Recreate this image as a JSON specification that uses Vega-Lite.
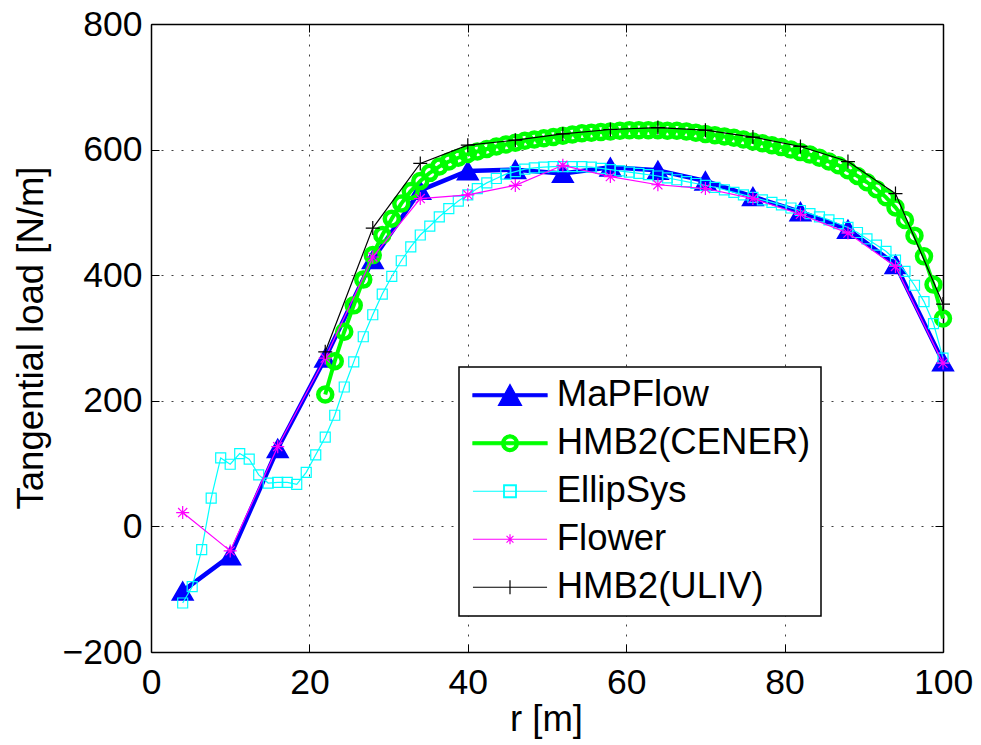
{
  "$schema": "https://vega.github.io/schema/vega-lite/v6.json",
  "width": 792,
  "height": 628,
  "autosize": {"type": "none"},
  "padding": {"left": 151, "top": 24, "right": 38, "bottom": 93},
  "background": "white",
  "config": {"font": "Liberation Sans", "view": {"stroke": null}},
  "data": {"values": [
    {"s":"MaPFlow","r":4,"v":-103},{"s":"MaPFlow","r":10,"v":-47},{"s":"MaPFlow","r":16,"v":124},{"s":"MaPFlow","r":22,"v":268},{"s":"MaPFlow","r":28,"v":425},{"s":"MaPFlow","r":34,"v":535},{"s":"MaPFlow","r":40,"v":566},{"s":"MaPFlow","r":46,"v":568},{"s":"MaPFlow","r":52,"v":562},{"s":"MaPFlow","r":58,"v":572},{"s":"MaPFlow","r":64,"v":567},{"s":"MaPFlow","r":70,"v":550},{"s":"MaPFlow","r":76,"v":525},{"s":"MaPFlow","r":82,"v":501},{"s":"MaPFlow","r":88,"v":473},{"s":"MaPFlow","r":94,"v":417},{"s":"MaPFlow","r":100,"v":262},
    {"s":"HMB2(CENER)","r":22.0,"v":210},{"s":"HMB2(CENER)","r":23.2,"v":263},{"s":"HMB2(CENER)","r":24.4,"v":310},{"s":"HMB2(CENER)","r":25.6,"v":352},{"s":"HMB2(CENER)","r":26.8,"v":393},{"s":"HMB2(CENER)","r":28.0,"v":432},{"s":"HMB2(CENER)","r":29.2,"v":464},{"s":"HMB2(CENER)","r":30.4,"v":490},{"s":"HMB2(CENER)","r":31.6,"v":514},{"s":"HMB2(CENER)","r":32.8,"v":534},{"s":"HMB2(CENER)","r":34.0,"v":550},{"s":"HMB2(CENER)","r":35.2,"v":563},{"s":"HMB2(CENER)","r":36.4,"v":573},{"s":"HMB2(CENER)","r":37.6,"v":581},{"s":"HMB2(CENER)","r":38.8,"v":587},{"s":"HMB2(CENER)","r":40.0,"v":593},{"s":"HMB2(CENER)","r":41.2,"v":597},{"s":"HMB2(CENER)","r":42.4,"v":601},{"s":"HMB2(CENER)","r":43.6,"v":605},{"s":"HMB2(CENER)","r":44.8,"v":608},{"s":"HMB2(CENER)","r":46.0,"v":611},{"s":"HMB2(CENER)","r":47.2,"v":614},{"s":"HMB2(CENER)","r":48.4,"v":616},{"s":"HMB2(CENER)","r":49.6,"v":618},{"s":"HMB2(CENER)","r":50.8,"v":620},{"s":"HMB2(CENER)","r":52.0,"v":622},{"s":"HMB2(CENER)","r":53.2,"v":624},{"s":"HMB2(CENER)","r":54.4,"v":626},{"s":"HMB2(CENER)","r":55.6,"v":627},{"s":"HMB2(CENER)","r":56.8,"v":628},{"s":"HMB2(CENER)","r":58.0,"v":629},{"s":"HMB2(CENER)","r":59.2,"v":630},{"s":"HMB2(CENER)","r":60.4,"v":631},{"s":"HMB2(CENER)","r":61.6,"v":631},{"s":"HMB2(CENER)","r":62.8,"v":631},{"s":"HMB2(CENER)","r":64.0,"v":631},{"s":"HMB2(CENER)","r":65.2,"v":630},{"s":"HMB2(CENER)","r":66.4,"v":630},{"s":"HMB2(CENER)","r":67.6,"v":629},{"s":"HMB2(CENER)","r":68.8,"v":627},{"s":"HMB2(CENER)","r":70.0,"v":625},{"s":"HMB2(CENER)","r":71.2,"v":623},{"s":"HMB2(CENER)","r":72.4,"v":621},{"s":"HMB2(CENER)","r":73.6,"v":619},{"s":"HMB2(CENER)","r":74.8,"v":616},{"s":"HMB2(CENER)","r":76.0,"v":613},{"s":"HMB2(CENER)","r":77.2,"v":610},{"s":"HMB2(CENER)","r":78.4,"v":607},{"s":"HMB2(CENER)","r":79.6,"v":604},{"s":"HMB2(CENER)","r":80.8,"v":600},{"s":"HMB2(CENER)","r":82.0,"v":596},{"s":"HMB2(CENER)","r":83.2,"v":592},{"s":"HMB2(CENER)","r":84.4,"v":587},{"s":"HMB2(CENER)","r":85.6,"v":581},{"s":"HMB2(CENER)","r":86.8,"v":575},{"s":"HMB2(CENER)","r":88.0,"v":567},{"s":"HMB2(CENER)","r":89.2,"v":558},{"s":"HMB2(CENER)","r":90.4,"v":548},{"s":"HMB2(CENER)","r":91.6,"v":537},{"s":"HMB2(CENER)","r":92.8,"v":524},{"s":"HMB2(CENER)","r":94.0,"v":508},{"s":"HMB2(CENER)","r":95.2,"v":488},{"s":"HMB2(CENER)","r":96.4,"v":463},{"s":"HMB2(CENER)","r":97.6,"v":430},{"s":"HMB2(CENER)","r":98.8,"v":385},{"s":"HMB2(CENER)","r":100.0,"v":331},
    {"s":"EllipSys","r":4.0,"v":-122},{"s":"EllipSys","r":5.2,"v":-96},{"s":"EllipSys","r":6.4,"v":-37},{"s":"EllipSys","r":7.6,"v":45},{"s":"EllipSys","r":8.8,"v":109},{"s":"EllipSys","r":10.0,"v":99},{"s":"EllipSys","r":11.2,"v":116},{"s":"EllipSys","r":12.4,"v":107},{"s":"EllipSys","r":13.6,"v":82},{"s":"EllipSys","r":14.8,"v":69},{"s":"EllipSys","r":16.0,"v":70},{"s":"EllipSys","r":17.2,"v":70},{"s":"EllipSys","r":18.4,"v":67},{"s":"EllipSys","r":19.6,"v":86},{"s":"EllipSys","r":20.8,"v":114},{"s":"EllipSys","r":22.0,"v":142},{"s":"EllipSys","r":23.2,"v":177},{"s":"EllipSys","r":24.4,"v":222},{"s":"EllipSys","r":25.6,"v":262},{"s":"EllipSys","r":26.8,"v":302},{"s":"EllipSys","r":28.0,"v":337},{"s":"EllipSys","r":29.2,"v":370},{"s":"EllipSys","r":30.4,"v":398},{"s":"EllipSys","r":31.6,"v":423},{"s":"EllipSys","r":32.8,"v":445},{"s":"EllipSys","r":34.0,"v":464},{"s":"EllipSys","r":35.2,"v":478},{"s":"EllipSys","r":36.4,"v":493},{"s":"EllipSys","r":37.6,"v":506},{"s":"EllipSys","r":38.8,"v":518},{"s":"EllipSys","r":40.0,"v":528},{"s":"EllipSys","r":41.2,"v":538},{"s":"EllipSys","r":42.4,"v":547},{"s":"EllipSys","r":43.6,"v":554},{"s":"EllipSys","r":44.8,"v":561},{"s":"EllipSys","r":46.0,"v":565},{"s":"EllipSys","r":47.2,"v":569},{"s":"EllipSys","r":48.4,"v":571},{"s":"EllipSys","r":49.6,"v":572},{"s":"EllipSys","r":50.8,"v":573},{"s":"EllipSys","r":52.0,"v":573},{"s":"EllipSys","r":53.2,"v":573},{"s":"EllipSys","r":54.4,"v":573},{"s":"EllipSys","r":55.6,"v":572},{"s":"EllipSys","r":56.8,"v":570},{"s":"EllipSys","r":58.0,"v":568},{"s":"EllipSys","r":59.2,"v":566},{"s":"EllipSys","r":60.4,"v":564},{"s":"EllipSys","r":61.6,"v":562},{"s":"EllipSys","r":62.8,"v":560},{"s":"EllipSys","r":64.0,"v":558},{"s":"EllipSys","r":65.2,"v":555},{"s":"EllipSys","r":66.4,"v":552},{"s":"EllipSys","r":67.6,"v":549},{"s":"EllipSys","r":68.8,"v":546},{"s":"EllipSys","r":70.0,"v":543},{"s":"EllipSys","r":71.2,"v":540},{"s":"EllipSys","r":72.4,"v":536},{"s":"EllipSys","r":73.6,"v":532},{"s":"EllipSys","r":74.8,"v":528},{"s":"EllipSys","r":76.0,"v":524},{"s":"EllipSys","r":77.2,"v":520},{"s":"EllipSys","r":78.4,"v":516},{"s":"EllipSys","r":79.6,"v":512},{"s":"EllipSys","r":80.8,"v":507},{"s":"EllipSys","r":82.0,"v":503},{"s":"EllipSys","r":83.2,"v":498},{"s":"EllipSys","r":84.4,"v":493},{"s":"EllipSys","r":85.6,"v":488},{"s":"EllipSys","r":86.8,"v":482},{"s":"EllipSys","r":88.0,"v":476},{"s":"EllipSys","r":89.2,"v":468},{"s":"EllipSys","r":90.4,"v":458},{"s":"EllipSys","r":91.6,"v":448},{"s":"EllipSys","r":92.8,"v":438},{"s":"EllipSys","r":94.0,"v":424},{"s":"EllipSys","r":95.2,"v":406},{"s":"EllipSys","r":96.4,"v":384},{"s":"EllipSys","r":97.6,"v":358},{"s":"EllipSys","r":98.8,"v":323},{"s":"EllipSys","r":100.0,"v":268},
    {"s":"Flower","r":4,"v":22},{"s":"Flower","r":10,"v":-39},{"s":"Flower","r":16,"v":127},{"s":"Flower","r":22,"v":268},{"s":"Flower","r":28,"v":429},{"s":"Flower","r":34,"v":522},{"s":"Flower","r":40,"v":528},{"s":"Flower","r":46,"v":543},{"s":"Flower","r":52,"v":575},{"s":"Flower","r":58,"v":557},{"s":"Flower","r":64,"v":544},{"s":"Flower","r":70,"v":538},{"s":"Flower","r":76,"v":522},{"s":"Flower","r":82,"v":497},{"s":"Flower","r":88,"v":467},{"s":"Flower","r":94,"v":414},{"s":"Flower","r":100,"v":260},
    {"s":"HMB2(ULIV)","r":22,"v":278},{"s":"HMB2(ULIV)","r":28,"v":475},{"s":"HMB2(ULIV)","r":34,"v":578},{"s":"HMB2(ULIV)","r":40,"v":607},{"s":"HMB2(ULIV)","r":46,"v":615},{"s":"HMB2(ULIV)","r":52,"v":625},{"s":"HMB2(ULIV)","r":58,"v":632},{"s":"HMB2(ULIV)","r":64,"v":635},{"s":"HMB2(ULIV)","r":70,"v":631},{"s":"HMB2(ULIV)","r":76,"v":620},{"s":"HMB2(ULIV)","r":82,"v":605},{"s":"HMB2(ULIV)","r":88,"v":581},{"s":"HMB2(ULIV)","r":94,"v":530},{"s":"HMB2(ULIV)","r":100,"v":354}
  ]},
  "layer": [
    {
      "encoding": {
        "x": {"field": "r", "type": "quantitative", "scale": {"domain": [0, 100], "nice": false, "zero": false},
          "axis": {"orient": "bottom", "values": [0, 20, 40, 60, 80, 100], "grid": true, "gridDash": [2, 8], "gridColor": "#404040", "gridWidth": 1, "gridOpacity": 1,
            "domainColor": "black", "domainWidth": 1.5, "tickColor": "black", "tickSize": -8, "tickWidth": 1,
            "labelFontSize": 35.5, "labelColor": "black", "labelPadding": 49, "labelBaseline": "alphabetic", "labelFlush": false, "labelOverlap": false, "labelBound": false,
            "title": "r [m]", "titleFontSize": 36.5, "titleFontWeight": "normal", "titleColor": "black", "titleX": 395, "titleY": 78, "titleBaseline": "alphabetic", "titleAlign": "center"}},
        "y": {"field": "v", "type": "quantitative", "scale": {"domain": [-200, 800], "nice": false, "zero": false},
          "axis": {"orient": "left", "values": [-200, 0, 200, 400, 600, 800], "grid": true, "gridDash": [2, 8], "gridColor": "#404040", "gridWidth": 1, "gridOpacity": 1,
            "domainColor": "black", "domainWidth": 1.5, "tickColor": "black", "tickSize": -8, "tickWidth": 1,
            "labelFontSize": 35.5, "labelColor": "black", "labelPadding": 17, "labelBaseline": "middle", "labelFlush": false, "labelOverlap": false, "labelBound": false,
            "title": "Tangential load [N/m]", "titleFontSize": 36.5, "titleFontWeight": "normal", "titleColor": "black", "titleX": -109, "titleY": 313.5, "titleAngle": 270, "titleBaseline": "alphabetic", "titleAlign": "center"}},
        "color": {"field": "s", "type": "nominal",
          "scale": {"domain": ["MaPFlow", "HMB2(CENER)", "EllipSys", "Flower", "HMB2(ULIV)"], "range": ["#0000ff", "#00ff00", "#00ffff", "#ff00ff", "#000000"]},
          "legend": {"title": null, "orient": "none", "legendX": 308, "legendY": 343, "padding": 10, "strokeColor": "black", "fillColor": "white",
            "labelFontSize": 36.5, "labelColor": "black", "labelLimit": 500, "rowPadding": 11, "symbolSize": 900, "symbolStrokeWidth": 1.2, "symbolOffset": 22.75, "labelOffset": 28.5,
            "encode": {
              "symbols": {"update": {
                "shape": {"signal": "datum.value==='MaPFlow' ? 'M-2.47,-0.1H2.47V0.1H-2.47ZM0,-0.72L0.77,0.68L-0.77,0.68Z' : datum.value==='HMB2(CENER)' ? 'M-2.47,-0.1H2.47V0.1H-2.47ZM0.56,0A0.56,0.56 0 1,1 -0.56,0A0.56,0.56 0 1,1 0.56,0ZM0.36,0A0.36,0.36 0 1,0 -0.36,0A0.36,0.36 0 1,0 0.36,0Z' : datum.value==='EllipSys' ? 'M-2.47,0H2.47M-0.42,-0.42H0.42V0.42H-0.42ZM-0.38,-0.38V0.38H0.38V-0.38Z' : datum.value==='Flower' ? 'M-2.47,0H2.47M0,-0.33V0.33M-0.23,-0.23L0.23,0.23M-0.23,0.23L0.23,-0.23' : 'M-2.47,0H2.47M0,-0.47V0.47'"},
                "fill": {"scale": "color", "field": "value"},
                "stroke": {"scale": "color", "field": "value"},
                "strokeWidth": {"value": 1.2},
                "opacity": {"value": 1},
                "size": {"value": 900}
              }},
              "legend": {"update": {"strokeWidth": {"value": 1.5}}}
            }}}
      },
      "layer": [
        {"transform": [{"filter": "datum.s==='MaPFlow'"}], "mark": {"type": "line", "strokeWidth": 4.5, "strokeJoin": "round"}},
        {"transform": [{"filter": "datum.s==='MaPFlow'"}], "mark": {"type": "point", "shape": "triangle-up", "filled": true, "size": 400, "stroke": "#0000ff", "strokeWidth": 2, "opacity": 1}},
        {"transform": [{"filter": "datum.s==='HMB2(CENER)'"}], "mark": {"type": "line", "strokeWidth": 4, "strokeJoin": "round"}},
        {"transform": [{"filter": "datum.s==='HMB2(CENER)'"}], "mark": {"type": "point", "shape": "circle", "filled": false, "size": 196, "strokeWidth": 4.5, "opacity": 1}},
        {"transform": [{"filter": "datum.s==='EllipSys'"}], "mark": {"type": "line", "strokeWidth": 1.2}},
        {"transform": [{"filter": "datum.s==='EllipSys'"}], "mark": {"type": "point", "shape": "square", "filled": false, "size": 100, "strokeWidth": 1.2, "opacity": 1}},
        {"transform": [{"filter": "datum.s==='Flower'"}], "mark": {"type": "line", "strokeWidth": 1.2}},
        {"transform": [{"filter": "datum.s==='Flower'"}], "mark": {"type": "point", "shape": "M0,-1V1M-1,0H1M-0.7,-0.7L0.7,0.7M-0.7,0.7L0.7,-0.7", "filled": false, "size": 169, "strokeWidth": 1.2, "opacity": 1}},
        {"transform": [{"filter": "datum.s==='HMB2(ULIV)'"}], "mark": {"type": "line", "strokeWidth": 1.2}}
      ]
    },
    {
      "transform": [{"filter": "datum.s==='HMB2(ULIV)'"}],
      "mark": {"type": "point", "shape": "M0,-1V1M-1,0H1", "filled": false, "size": 196, "strokeWidth": 1.2, "opacity": 1},
      "encoding": {
        "x": {"field": "r", "type": "quantitative", "scale": {"domain": [0, 100], "nice": false, "zero": false},
          "axis": {"orient": "top", "values": [0, 20, 40, 60, 80, 100], "grid": false, "labels": false, "title": null, "domainColor": "black", "domainWidth": 1.5, "tickColor": "black", "tickSize": -8, "tickWidth": 1}},
        "y": {"field": "v", "type": "quantitative", "scale": {"domain": [-200, 800], "nice": false, "zero": false},
          "axis": {"orient": "right", "values": [-200, 0, 200, 400, 600, 800], "grid": false, "labels": false, "title": null, "domainColor": "black", "domainWidth": 1.5, "tickColor": "black", "tickSize": -8, "tickWidth": 1}},
        "color": {"field": "s", "type": "nominal",
          "scale": {"domain": ["MaPFlow", "HMB2(CENER)", "EllipSys", "Flower", "HMB2(ULIV)"], "range": ["#0000ff", "#00ff00", "#00ffff", "#ff00ff", "#000000"]}}
      }
    }
  ]
}
